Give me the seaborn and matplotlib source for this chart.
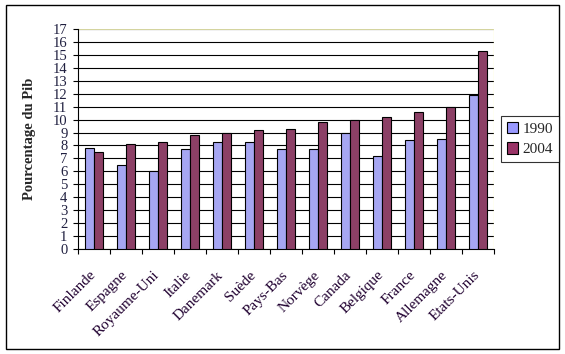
import matplotlib
matplotlib.use("Agg")
import matplotlib.pyplot as plt
import matplotlib.patches as mpatches
import matplotlib.transforms as mtransforms
import seaborn as sns
import pandas as pd
import numpy as np

# Data
pays = ['Finlande', 'Espagne', 'Royaume-Uni', 'Italie', 'Danemark', 'Suède',
        'Pays-Bas', 'Norvège', 'Canada', 'Belgique', 'France', 'Allemagne',
        'Etats-Unis']
val_1990 = [7.8, 6.5, 6.0, 7.7, 8.3, 8.3, 7.7, 7.7, 9.0, 7.2, 8.4, 8.5, 11.9]
val_2004 = [7.5, 8.1, 8.3, 8.8, 9.0, 9.2, 9.3, 9.8, 10.0, 10.2, 10.6, 11.0, 15.3]
annees = ['1990', '2004']
couleurs = ['#9999FF', '#993366']

df = pd.DataFrame({
    'Pays': pays * 2,
    'Annee': [annees[0]] * len(pays) + [annees[1]] * len(pays),
    'Valeur': val_1990 + val_2004,
})

sns.set_style('white')
plt.rcParams['font.family'] = ['Liberation Serif', 'DejaVu Serif']

fig = plt.figure(figsize=(5.65, 3.54), dpi=100)
ax = fig.add_axes([78 / 565, 105 / 354, 416 / 565, 220 / 354])

sns.barplot(data=df, x='Pays', y='Valeur', hue='Annee', palette=couleurs,
            width=0.56, edgecolor='black', linewidth=0.8, ax=ax,
            legend=False, zorder=3)

ax.set_xlim(-0.5, len(pays) - 0.5)
ax.set_ylim(0, 17)
ax.set_yticks(range(0, 18))
ax.yaxis.grid(True, color='black', linewidth=0.8, zorder=0)
ax.set_axisbelow(True)

# tick marks between categories, labels centred under groups
ax.set_xticks(np.arange(len(pays)))
ax.set_xticks(np.arange(-0.5, len(pays)), minor=True)
ax.tick_params(axis='x', which='major', length=0, pad=14)
ax.tick_params(axis='x', which='minor', length=3.6, width=0.8, direction='out',
               color='black', bottom=True)
ax.tick_params(axis='y', length=3.6, width=0.8, direction='out', color='black',
               left=True, labelsize=10.5, pad=4)
ax.set_xticklabels(pays, rotation=45, ha='right', va='top',
                   rotation_mode='anchor', fontsize=11, color='#200030')
shift = mtransforms.ScaledTranslation(-5 / 100, 0, fig.dpi_scale_trans)
for lab in ax.get_xticklabels():
    lab.set_transform(lab.get_transform() + shift)
for lab in ax.get_yticklabels():
    lab.set_color('#202040')

for side in ['top', 'right']:
    ax.spines[side].set_visible(False)
ax.spines['left'].set_color('black')
ax.spines['bottom'].set_color('black')
ax.spines['left'].set_linewidth(0.8)
ax.spines['bottom'].set_linewidth(0.8)
ax.axvline(len(pays) - 0.5, color='#FFFFC0', linewidth=1, zorder=1)
ax.axhline(17, color='#FFFFC0', linewidth=1.2, zorder=1)

ax.set_xlabel('')
ax.set_ylabel('Pourcentage du Pib', fontsize=10.5, fontweight='bold',
              labelpad=12)

handles = [mpatches.Patch(facecolor=c, edgecolor='black', linewidth=0.8, label=a)
           for c, a in zip(couleurs, annees)]
leg = fig.legend(handles=handles, loc='center', bbox_to_anchor=(530 / 565, 1 - 139 / 354),
                 frameon=True, fancybox=False, fontsize=11, handlelength=0.75,
                 handleheight=0.75, handletextpad=0.3, borderpad=0.35,
                 labelspacing=0.45, borderaxespad=0)
leg.get_frame().set_edgecolor('black')
leg.get_frame().set_linewidth(0.8)

# outer chart border
fig.patches.append(mpatches.Rectangle((6 / 565, 5 / 354), 553 / 565, 344 / 354,
                                      transform=fig.transFigure, fill=False,
                                      edgecolor='black', linewidth=1))

fig.savefig('out.png', dpi=100)
